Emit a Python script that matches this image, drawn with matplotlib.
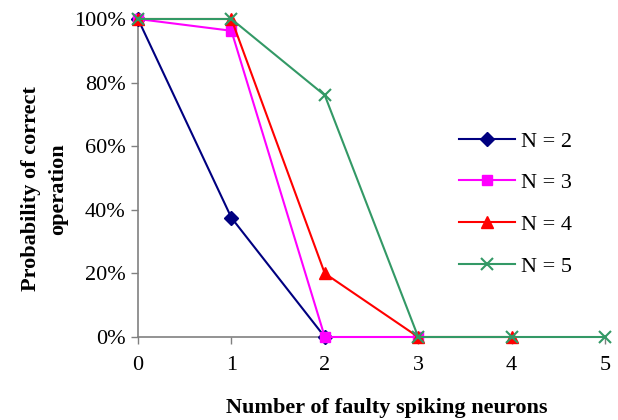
import matplotlib
matplotlib.use("Agg")
import matplotlib.pyplot as plt
from matplotlib.ticker import FuncFormatter

x_ticks = [0, 1, 2, 3, 4, 5]
series_labels = ["N = 2", "N = 3", "N = 4", "N = 5"]
x_n2 = [0, 1, 2]
y_n2 = [100, 37.5, 0]
x_n3 = [0, 1, 2, 3]
y_n3 = [100, 96.3, 0, 0]
x_n4 = [0, 1, 2, 3, 4]
y_n4 = [100, 100, 20, 0, 0]
x_n5 = [0, 1, 2, 3, 4, 5]
y_n5 = [100, 100, 76, 0, 0, 0]

plt.rcParams['font.family'] = ['Liberation Serif', 'DejaVu Serif']

fig = plt.figure(figsize=(6.18, 4.2), dpi=100)
ax = fig.add_axes([138/618, 1-337/420, (605-138)/618, (337-19)/420])

ax.plot(x_n2, y_n2, color='#000080', marker='D', markersize=7, lw=1.5, label=series_labels[0], clip_on=False, zorder=3)
ax.plot(x_n3, y_n3, color='#FF00FF', marker='s', markersize=7.5, lw=1.5, label=series_labels[1], clip_on=False, zorder=4)
ax.plot(x_n4, y_n4, color='#FF0000', marker='^', markersize=9, lw=1.5, label=series_labels[2], clip_on=False, zorder=5)
ax.plot(x_n5, y_n5, color='#339966', marker='x', markersize=9, mew=1.5, lw=1.5, label=series_labels[3], clip_on=False, zorder=6)

ax.set_xlim(0, 5)
ax.set_ylim(0, 100)
ax.set_xticks(x_ticks)
ax.set_yticks([0, 20, 40, 60, 80, 100])
ax.yaxis.set_major_formatter(FuncFormatter(lambda v, p: f"{int(v)}%"))
for s in ['top', 'right']:
    ax.spines[s].set_visible(False)
for s in ['left', 'bottom']:
    ax.spines[s].set_color('#808080')
    ax.spines[s].set_linewidth(1.2)
ax.tick_params(axis='both', colors='#808080', labelcolor='black', labelsize=16, length=5, width=1)
ax.tick_params(axis='x', pad=9)
ax.tick_params(axis='y', pad=4)

ax.set_xlabel("Number of faulty spiking neurons", fontsize=16, fontweight='bold')
ax.xaxis.set_label_coords((387-138)/467, (337-398)/318)
ax.set_ylabel("Probability of correct\noperation", fontsize=16, fontweight='bold', linespacing=1.45)
ax.yaxis.set_label_coords((68-138)/467, (337-189)/318)

leg = ax.legend(loc='upper left', bbox_to_anchor=(459/618, 1-131/420), bbox_transform=fig.transFigure,
                frameon=False, fontsize=16, handlelength=2.5, labelspacing=0.95, handletextpad=0.3,
                borderpad=0, borderaxespad=0)

fig.savefig("out.png", dpi=100)
